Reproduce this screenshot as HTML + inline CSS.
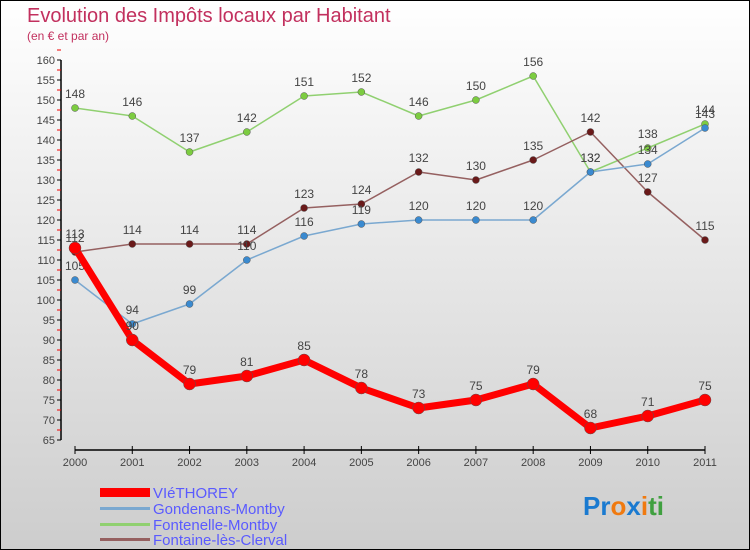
<!DOCTYPE html>
<html><head><meta charset="utf-8"><style>
body{margin:0;width:750px;height:550px;overflow:hidden;font-family:"Liberation Sans",sans-serif}
#wrap{position:absolute;left:0;top:0;width:748px;height:548px;border:1px solid #000;background:linear-gradient(#fff 0%,#f0f0f0 30%,#cdcdcd 100%)}
</style></head><body>
<div id="wrap">
<svg id="chart" width="750" height="550" style="position:absolute;left:-1px;top:-1px">
<text x="27" y="22" font-size="20" fill="#c2305e">Evolution des Impôts locaux par Habitant</text>
<text x="27" y="40" font-size="12" fill="#c2305e">(en € et par an)</text>
<g id="axes"></g><g id="series"></g>
<g font-size="15" fill="#5a5aff">
<rect x="100" y="488" width="50" height="9" fill="#f00"/>
<text x="153" y="498">VIéTHOREY</text>
<rect x="100" y="507" width="50" height="3" fill="#7aa8d0"/>
<text x="153" y="514">Gondenans-Montby</text>
<rect x="100" y="523" width="50" height="3" fill="#90d070"/>
<text x="153" y="530">Fontenelle-Montby</text>
<rect x="100" y="538" width="50" height="3" fill="#956060"/>
<text x="153" y="545">Fontaine-lès-Clerval</text>
</g>
<text x="583" y="515" font-size="26" font-weight="bold"><tspan fill="#1a7ad0">Pr</tspan><tspan fill="#f07a10">o</tspan><tspan fill="#1a7ad0">x</tspan><tspan fill="#f07a10">i</tspan><tspan fill="#40a040">ti</tspan></text>
</svg>
</div>
<script>
const years=["2000","2001","2002","2003","2004","2005","2006","2007","2008","2009","2010","2011"];
const vieValues=[113,90,79,81,85,78,73,75,79,68,71,75];
const gondValues=[105,94,99,110,116,119,120,120,120,132,134,143];
const fontenelleValues=[148,146,137,142,151,152,146,150,156,132,138,144];
const fontaineValues=[112,114,114,114,123,124,132,130,135,142,127,115];
const yTicks=[65,70,75,80,85,90,95,100,105,110,115,120,125,130,135,140,145,150,155,160];
const NS="http://www.w3.org/2000/svg";
function xs(i){return 75+i*(630/11);}
function ys(v){return 440-(v-65)*4;}
function mk(tag,attrs,parent){const e=document.createElementNS(NS,tag);for(const k in attrs)e.setAttribute(k,attrs[k]);parent.appendChild(e);return e;}
const axes=document.getElementById('axes');
const yAxis=mk('line',{x1:61,y1:60,x2:61,y2:440,stroke:'#000','stroke-width':1.5},axes);


yTicks.forEach(t=>{
  mk('line',{x1:57,y1:ys(t),x2:61,y2:ys(t),stroke:'#000'},axes);
  mk('line',{x1:57,y1:ys(t+2.5),x2:61,y2:ys(t+2.5),stroke:'#e00'},axes);
  const tx=mk('text',{x:55,y:ys(t)+4,'font-size':11,fill:'#444','text-anchor':'end'},axes);
  tx.textContent=t;
  
  
});
const xAxis=mk('line',{x1:75,y1:450,x2:705,y2:450,stroke:'#000','stroke-width':1.5},axes);


years.forEach((y,i)=>{
  mk('line',{x1:xs(i),y1:446,x2:xs(i),y2:454,stroke:'#000'},axes);
  const tx=mk('text',{x:xs(i),y:466,'font-size':11,fill:'#444','text-anchor':'middle'},axes);
  tx.textContent=y;
  
  
});
const sg=document.getElementById('series');
function draw(vals,color,w,r,name,dot){
  const g=mk('g',{},sg);
  
  
  const p=mk('polyline',{points:vals.map((v,i)=>xs(i)+','+ys(v)).join(' '),fill:'none',stroke:color,'stroke-width':w,'stroke-linejoin':'round'},g);
  
  
  vals.forEach((v,i)=>{
    const c=mk('circle',{cx:xs(i),cy:ys(v),r:r,fill:dot,stroke:'#555','stroke-width':0.5},g);
    
    
    const t=mk('text',{x:xs(i),y:ys(v)-10,'font-size':12,fill:'#444','text-anchor':'middle'},g);
    t.textContent=v;
    
    
  });
}
draw(fontenelleValues,'#90d070',1.5,3.5,'fontenelle','#7ccc40');
draw(fontaineValues,'#956060',1.5,3.5,'fontaine','#6a1a1a');
draw(gondValues,'#7aa8d0',1.5,3.5,'gondenans','#3a8ad0');
draw(vieValues,'#f00',7,6,'viethorey','#f00');
</script>
</body></html>
